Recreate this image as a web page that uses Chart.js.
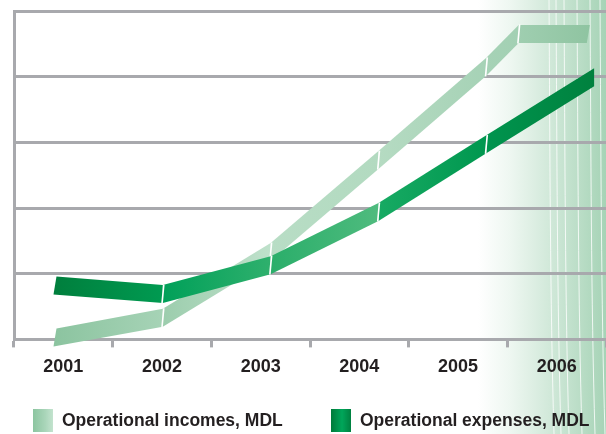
<!DOCTYPE html>
<html>
<head>
<meta charset="utf-8">
<script src="https://cdn.jsdelivr.net/npm/chart.js@4.4.0/dist/chart.umd.min.js"></script>
<style>
    html, body { margin: 0; padding: 0; background: #fff; }
    #wrap { position: relative; width: 606px; height: 434px; overflow: hidden; }
    #chart { position: absolute; left: 0; top: 0; }
    .leg { position: absolute; top: 409px; display: flex; align-items: center; font: bold 17.5px "Liberation Sans", Arial, sans-serif; color: #231f20; white-space: nowrap; }
    .sw { display: inline-block; width: 20px; height: 23px; margin-right: 9px; }
    .sw-inc { background: linear-gradient(to right, #8cc5a0, #a9d5b9 60%, #c3e3ce); }
    .sw-exp { background: linear-gradient(to right, #007a3a, #00a65a 55%, #008040); }
</style>
</head>
<body>
<div id="wrap">
    <canvas id="chart" width="606" height="434"></canvas>
    <div class="leg" style="left:33px"><i class="sw sw-inc"></i><span>Operational incomes, MDL</span></div>
    <div class="leg" style="left:331px"><i class="sw sw-exp"></i><span>Operational expenses, MDL</span></div>
</div>
<script>
// Data (y in grid units, no scale printed on the chart)
const years = ['2001', '2002', '2003', '2004', '2005', '2006'];

const incomeX = [2001, 2002, 2003, 2004, 2005, 2005.3, 2005.96];
const incomeY = [0.03, 0.33, 1.33, 2.73, 4.15, 4.65, 4.65];

const expenseX = [2001, 2002, 2003, 2004, 2005, 2006];
const expenseY = [0.82, 0.69, 1.13, 1.94, 2.97, 3.99];

// Segment shading for the ribbons (left colour, right colour)
const incomeShades = [
    ['#8cc4a0', '#a6d3b6'],
    ['#9ccdad', '#bfe1cb'],
    ['#b8ddc5', '#b2dac0'],
    ['#b5dbc2', '#a6d2b6'],
    ['#a6d2b6', '#a2d0b3'],
    ['#9fceb0', '#8fc4a1']
];
const expenseShades = [
    ['#007f3d', '#009a51'],
    ['#00a059', '#2fb06d'],
    ['#2aae6a', '#4fbb7e'],
    ['#17aa63', '#00974f'],
    ['#00944e', '#00813e']
];

const gridGray = '#a8a9ad';

function toPoints(xs, ys) {
    return xs.map((x, i) => ({ x: x, y: ys[i] }));
}

// Green fading backdrop with thin white curves on the right side
const backdropPlugin = {
    id: 'backdrop',
    beforeDraw(chart) {
        const ctx = chart.ctx;
        const w = chart.width, h = chart.height;
        ctx.save();
        ctx.fillStyle = '#ffffff';
        ctx.fillRect(0, 0, w, h);
        const g = ctx.createLinearGradient(478, 0, w, 0);
        g.addColorStop(0, 'rgba(255,255,255,1)');
        g.addColorStop(0.25, '#eef7f1');
        g.addColorStop(0.55, '#d2e9da');
        g.addColorStop(1, '#a6d3b6');
        ctx.fillStyle = g;
        ctx.fillRect(478, 0, w - 478, h);
        ctx.strokeStyle = 'rgba(255,255,255,0.8)';
        ctx.lineWidth = 1;
        [549, 556, 564, 577, 590, 600].forEach((x) => {
            ctx.beginPath();
            ctx.moveTo(x, 0);
            ctx.bezierCurveTo(x + 1, 150, x + 1, 300, x + 5, h);
            ctx.stroke();
        });
        ctx.restore();
    }
};

// Draws each line as a flat ribbon with white cuts at the joints
const ribbonPlugin = {
    id: 'ribbons',
    afterDatasetsDraw(chart) {
        const ctx = chart.ctx;
        const half = 9;
        ctx.save();
        chart.data.datasets.forEach((ds, di) => {
            const pts = chart.getDatasetMeta(di).data;
            for (let i = 0; i < pts.length - 1; i++) {
                const a = pts[i], b = pts[i + 1];
                const shade = ds.shades[i];
                const g = ctx.createLinearGradient(a.x, 0, b.x, 0);
                g.addColorStop(0, shade[0]);
                g.addColorStop(1, shade[1]);
                ctx.beginPath();
                ctx.moveTo(a.x + (i === 0 ? 1.5 : 0), a.y - half);
                ctx.lineTo(b.x, b.y - half);
                ctx.lineTo(b.x - (i === pts.length - 2 ? ds.endSlant : 0), b.y + half);
                ctx.lineTo(a.x - (i === 0 ? 1.5 : 0), a.y + half);
                ctx.closePath();
                ctx.fillStyle = g;
                ctx.fill();
            }
            ctx.strokeStyle = '#ffffff';
            ctx.lineWidth = 1.6;
            for (let i = 1; i < pts.length - 1; i++) {
                ctx.beginPath();
                ctx.moveTo(pts[i].x + 1, pts[i].y - half - 0.5);
                ctx.lineTo(pts[i].x - 0.8, pts[i].y + half + 0.5);
                ctx.stroke();
            }
        });
        ctx.restore();
    }
};

const ctx = document.getElementById('chart').getContext('2d');
new Chart(ctx, {
    type: 'line',
    data: {
        labels: years,
        datasets: [
            {
                label: 'Operational incomes, MDL',
                data: toPoints(incomeX, incomeY),
                xAxisID: 'x2',
                yAxisID: 'y',
                showLine: false,
                pointRadius: 0,
                shades: incomeShades,
                endSlant: 3
            },
            {
                label: 'Operational expenses, MDL',
                data: toPoints(expenseX, expenseY),
                xAxisID: 'x2',
                yAxisID: 'y',
                showLine: false,
                pointRadius: 0,
                shades: expenseShades,
                endSlant: 0
            }
        ]
    },
    options: {
        responsive: false,
        animation: false,
        devicePixelRatio: 1,
        layout: {
            padding: { top: 11, left: 14, right: 0, bottom: 47 }
        },
        plugins: {
            legend: { display: false },
            tooltip: { enabled: false }
        },
        scales: {
            x: {
                type: 'category',
                position: 'bottom',
                offset: true,
                grid: {
                    offset: true,
                    drawOnChartArea: false,
                    drawTicks: true,
                    tickLength: 8,
                    color: gridGray,
                    lineWidth: 3
                },
                border: { display: true, color: gridGray, width: 3 },
                ticks: {
                    color: '#231f20',
                    padding: 9,
                    font: { family: '"Liberation Sans", Arial, sans-serif', size: 18, weight: 'bold' }
                }
            },
            x2: {
                type: 'linear',
                display: false,
                min: 2000.62,
                max: 2006.11
            },
            y: {
                type: 'linear',
                min: 0,
                max: 5,
                ticks: { display: false, stepSize: 1 },
                grid: { color: gridGray, lineWidth: 3, drawTicks: false },
                border: { display: true, color: gridGray, width: 3 }
            }
        }
    },
    plugins: [backdropPlugin, ribbonPlugin]
});
</script>
</body>
</html>
